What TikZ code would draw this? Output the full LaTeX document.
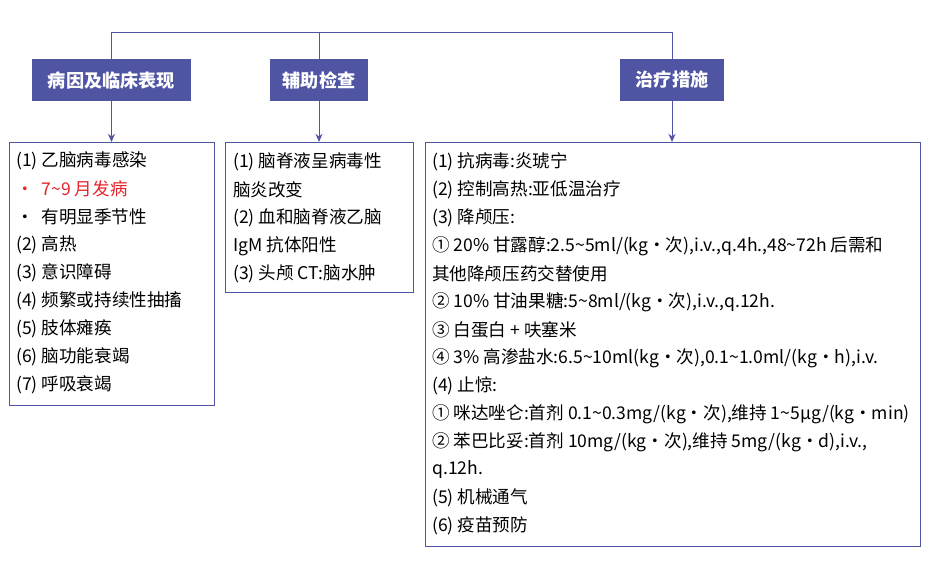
\documentclass[tikz,border=0pt]{standalone}
\usepackage{fontspec}
\setmainfont{Noto Sans CJK SC}
\usetikzlibrary{arrows.meta,positioning}
\definecolor{headblue}{HTML}{4F55A3}
\definecolor{warnred}{HTML}{E8242B}
\begin{document}
\begin{tikzpicture}[x=0.03cm,y=-0.03cm,
    head/.style={fill=headblue, text=white, font=\fontsize{15.5}{18}\selectfont\bfseries, inner sep=0pt},
    panel/.style={draw=headblue, line width=0.7pt},
    item/.style={anchor=west, inner sep=0pt, font=\fontsize{15}{17}\selectfont},
    link/.style={draw=headblue, line width=0.7pt},
    arr/.style={link, -{Stealth[length=7pt,width=6pt]}}]
\useasboundingbox (0,0) rectangle (929,563);
% headers
\node[head, minimum width=159*0.03cm, minimum height=42*0.03cm] (h1) at (111.5,80) {病因及临床表现};
\node[head, minimum width=98*0.03cm, minimum height=42*0.03cm] (h2) at (319,80) {辅助检查};
\node[head, minimum width=104*0.03cm, minimum height=42*0.03cm] (h3) at (672,80) {治疗措施};
% top bar
\coordinate (t1) at (111.5,32);
\coordinate (t2) at (319,32);
\coordinate (t3) at (672,32);
\draw[link] (t1) -- (t3);
\draw[link] (t1) -- (h1.north);
\draw[link] (t2) -- (h2.north);
\draw[link] (t3) -- (h3.north);
% boxes
\draw[panel] (9,142) rectangle (214,405);
\draw[panel] (225,142) rectangle (413,292);
\draw[panel] (425,142) rectangle (920,546);
\coordinate (b1) at (111.5,142);
\coordinate (b2) at (319,142);
\coordinate (b3) at (672,142);
\draw[arr] (h1.south) -- (b1);
\draw[arr] (h2.south) -- (b2);
\draw[arr] (h3.south) -- (b3);
% causes
\node[item] (c1) at (16,161) {(1) 乙脑病毒感染};
\node[item, text=warnred] (c2) at (16,189) {• \ 7\textasciitilde9 月发病};
\node[item] (c3) at (16,217) {• \ 有明显季节性};
\node[item] (c4) at (16,245) {(2) 高热};
\node[item] (c5) at (16,273) {(3) 意识障碍};
\node[item] (c6) at (16,301) {(4) 频繁或持续性抽搐};
\node[item] (c7) at (16,329) {(5) 肢体瘫痪};
\node[item] (c8) at (16,357) {(6) 脑功能衰竭};
\node[item] (c9) at (16,385) {(7) 呼吸衰竭};
% examinations
\node[item] (e1) at (233,162) {(1) 脑脊液呈病毒性};
\node[item] (e2) at (233,190) {脑炎改变};
\node[item] (e3) at (233,218) {(2) 血和脑脊液乙脑};
\node[item] (e4) at (233,246) {IgM 抗体阳性};
\node[item] (e5) at (233,274) {(3) 头颅 CT:脑水肿};
% treatment
\node[item] (r1) at (432,162) {(1) 抗病毒:炎琥宁};
\node[item] (r2) at (432,190) {(2) 控制高热:亚低温治疗};
\node[item] (r3) at (432,218) {(3) 降颅压:};
\node[item] (r4) at (432,246) {① 20\% 甘露醇:2.5\textasciitilde5ml/(kg·次),i.v.,q.4h.,48\textasciitilde72h 后需和};
\node[item] (r5) at (432,274) {其他降颅压药交替使用};
\node[item] (r6) at (432,302) {② 10\% 甘油果糖:5\textasciitilde8ml/(kg·次),i.v.,q.12h.};
\node[item] (r7) at (432,330) {③ 白蛋白 + 呋塞米};
\node[item] (r8) at (432,358) {④ 3\% 高渗盐水:6.5\textasciitilde10ml(kg·次),0.1\textasciitilde1.0ml/(kg·h),i.v.};
\node[item] (r9) at (432,386) {(4) 止惊:};
\node[item] (r10) at (432,414) {① 咪达唑仑:首剂 0.1\textasciitilde0.3mg/(kg·次),维持 1\textasciitilde5μg/(kg·min)};
\node[item] (r11) at (432,442) {② 苯巴比妥:首剂 10mg/(kg·次),维持 5mg/(kg·d),i.v.,};
\node[item] (r12) at (432,470) {q.12h.};
\node[item] (r13) at (432,498) {(5) 机械通气};
\node[item] (r14) at (432,526) {(6) 疫苗预防};
\end{tikzpicture}
\end{document}
